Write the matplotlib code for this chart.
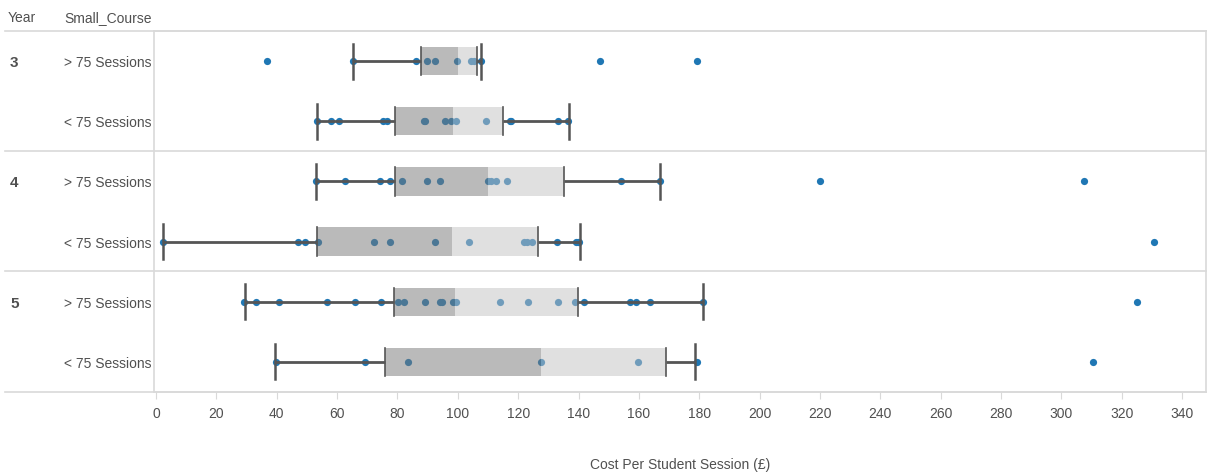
import matplotlib
matplotlib.use("Agg")
import matplotlib.pyplot as plt
from matplotlib.lines import Line2D
from matplotlib.patches import Rectangle
from matplotlib import font_manager

# ---- data -------------------------------------------------------------
years = ["3", "3", "4", "4", "5", "5"]
courses = ["> 75 Sessions", "< 75 Sessions"] * 3

y3_over = [36.8, 65.2, 86.0, 89.7, 92.3, 99.6, 104.5, 105.5, 107.7, 147.0, 179.1]
y3_under = [53.3, 58.0, 60.5, 75.2, 76.4, 88.8, 89.2, 95.8, 97.7, 99.5, 109.2,
            117.2, 117.6, 133.3, 136.6]
y4_over = [52.9, 62.6, 74.3, 77.4, 81.6, 89.8, 94.0, 110.1, 110.9, 112.7, 116.4,
           154.2, 166.9, 220.0, 307.5]
y4_under = [2.2, 47.1, 49.5, 53.8, 72.1, 77.6, 92.3, 103.8, 122.0, 123.0, 124.7,
            132.9, 139.1, 139.7, 140.3, 330.7]
y5_over = [29.0, 33.3, 40.6, 56.5, 66.1, 74.5, 80.3, 82.1, 89.1, 94.0, 94.8, 98.5,
           99.5, 113.9, 123.4, 133.3, 138.9, 141.8, 157.2, 159.1, 163.7, 181.2, 325.0]
y5_under = [39.6, 69.2, 83.4, 127.6, 159.7, 179.1, 310.5]
series = [y3_over, y3_under, y4_over, y4_under, y5_over, y5_under]

# box statistics per row
whisker_lo = [65.2, 53.3, 52.9, 2.2, 29.5, 39.3]
q1 = [87.7, 79.3, 79.3, 53.4, 78.8, 76.0]
median = [100.1, 98.3, 110.0, 98.0, 99.1, 127.7]
q3 = [106.2, 115.0, 135.3, 126.7, 139.7, 169.1]
whisker_hi = [107.7, 136.9, 166.9, 140.4, 181.2, 178.7]

x_ticks = list(range(0, 341, 20))
x_label = "Cost Per Student Session (£)"

# ---- styling ----------------------------------------------------------
names = {f.name for f in font_manager.fontManager.ttflist}
narrow = "Liberation Sans Narrow" if "Liberation Sans Narrow" in names else "Liberation Sans"
FONT = [narrow, "DejaVu Sans"]
FS = 10
TXT = "#505050"
RULE = "#d9d9d9"
DOT = "#1f77b4"
DARK = "#555555"

W, H = 1208, 477
fig = plt.figure(figsize=(W / 100, H / 100), dpi=100)

def fx(px):
    return px / W

def fy(py):
    return 1 - py / H

ax = fig.add_axes([fx(154), fy(393), fx(1206) - fx(154), fy(32) - fy(393)])
ax.set_xlim(-0.66, 347.9)
ax.set_ylim(5.5, -0.5)

# points beneath the boxes
for i, vals in enumerate(series):
    ax.plot(vals, [i] * len(vals), "o", color=DOT, markersize=5.2,
            markeredgewidth=0, zorder=2)

# boxes: translucent fills over the points
bh = 0.47
ch = 0.58
for i in range(len(series)):
    ax.add_patch(Rectangle((q1[i], i - bh / 2), median[i] - q1[i], bh,
                           facecolor="#777777", alpha=0.5, lw=0, zorder=3))
    ax.add_patch(Rectangle((median[i], i - bh / 2), q3[i] - median[i], bh,
                           facecolor="#c2c2c2", alpha=0.5, lw=0, zorder=3))
    ax.plot([whisker_lo[i], q1[i]], [i, i], color=DARK, lw=2, zorder=4,
            solid_capstyle="butt")
    ax.plot([q3[i], whisker_hi[i]], [i, i], color=DARK, lw=2, zorder=4,
            solid_capstyle="butt")
    for v in (q1[i], q3[i]):
        ax.plot([v, v], [i - bh / 2, i + bh / 2], color=DARK, lw=1.2, zorder=4)
    for v in (whisker_lo[i], whisker_hi[i]):
        ax.plot([v, v], [i - ch / 2, i + ch / 2], color=DARK, lw=1.8, zorder=4)

for s in ("top", "right", "left", "bottom"):
    ax.spines[s].set_color(RULE)
    ax.spines[s].set_linewidth(1.2)
ax.set_yticks([])
ax.set_xticks(x_ticks)
ax.set_xticklabels([str(t) for t in x_ticks], family=FONT, fontsize=FS, color=TXT)
ax.tick_params(axis="x", length=5, color=RULE, pad=5)
ax.set_xlabel(x_label, family=FONT, fontsize=FS, color=TXT, labelpad=27)

# header, row headers and group rules
fig.text(fx(8), fy(18), "Year", family=FONT, fontsize=FS, color=TXT, va="center")
fig.text(fx(64), fy(18), "Small_Course", family=FONT, fontsize=FS, color=TXT,
         va="center")
fig.add_artist(Line2D([fx(5), fx(1206)], [fy(32), fy(32)], color=RULE, lw=1.2))
for py in (152.3, 271.7, 393):
    fig.add_artist(Line2D([fx(5), fx(1206)], [fy(py), fy(py)], color=RULE, lw=1.2))

for i in range(len(series)):
    py = 33 + (i + 0.5) * (361 / 6)
    if i % 2 == 0:
        fig.text(fx(10), fy(py), years[i], family=FONT, fontsize=FS + 1,
                 fontweight="bold", color=TXT, va="center")
    fig.text(fx(64), fy(py), courses[i], family=FONT, fontsize=FS, color=TXT,
             va="center")

fig.savefig("out.png", dpi=100, facecolor="white")
